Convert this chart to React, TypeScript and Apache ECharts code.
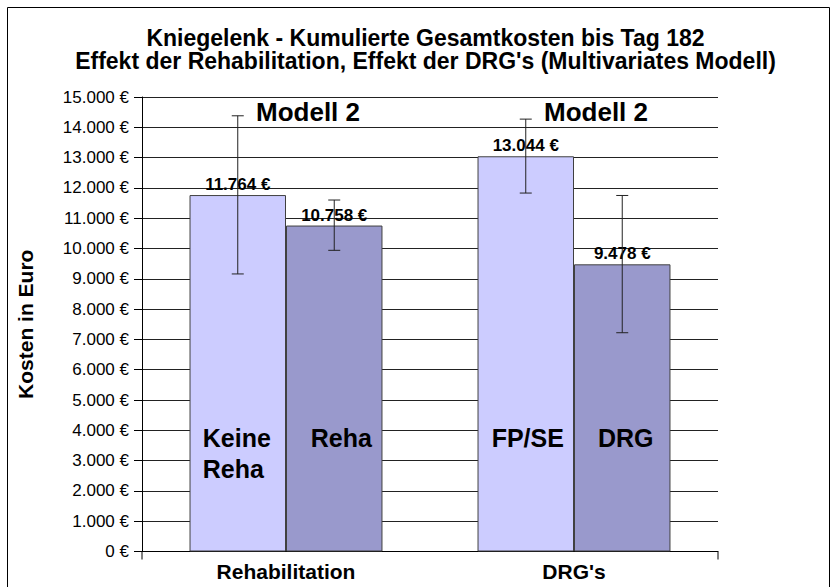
import React, { useEffect, useRef } from 'react';
import * as echarts from 'echarts';

const categories = ['Rehabilitation', "DRG's"];
const barNamesLight = ['Keine\nReha', 'FP/SE'];
const barNamesDark = ['Reha', 'DRG'];
const valuesLight = [11764, 13044];
const valuesDark = [10758, 9478];
const errLowLight = [9160, 11830];
const errHighLight = [14380, 14270];
const errLowDark = [9940, 7220];
const errHighDark = [11600, 11750];
const yMin = 0;
const yMax = 15000;
const yStep = 1000;
const titleLines = [
  'Kniegelenk - Kumulierte Gesamtkosten bis Tag 182',
  "Effekt der Rehabilitation, Effekt der DRG's (Multivariates Modell)",
];
const modelNotes = ['Modell 2', 'Modell 2'];
const yAxisTitle = 'Kosten in Euro';

const FONT = 'Arial, "Liberation Sans", sans-serif';
const CAT_GAP = 0.33;

function fmtEuro(v: number): string {
  const s = Math.round(v).toString().replace(/\B(?=(\d{3})+(?!\d))/g, '.');
  return s + ' €';
}

export default function App() {
  const ref = useRef<HTMLDivElement>(null);
  useEffect(() => {
    if (!ref.current) return;
    const chart = echarts.init(ref.current, undefined, { renderer: 'svg' });
    const errData = [
      ...categories.map((_, i) => [i, errLowLight[i], errHighLight[i], -1]),
      ...categories.map((_, i) => [i, errLowDark[i], errHighDark[i], 1]),
    ];
    chart.setOption({
      animation: false,
      backgroundColor: '#ffffff',
      textStyle: { fontFamily: FONT },
      grid: { left: 142, right: 117, top: 97, bottom: 35.5, containLabel: false },
      xAxis: {
        type: 'category',
        data: categories,
        axisLine: { lineStyle: { color: '#000', width: 1 } },
        axisTick: { show: false },
        axisLabel: { color: '#000', fontSize: 21, fontWeight: 'bold', fontFamily: FONT, margin: 9 },
      },
      yAxis: {
        type: 'value',
        min: yMin,
        max: yMax,
        interval: yStep,
        name: yAxisTitle,
        nameLocation: 'middle',
        nameGap: 106,
        nameTextStyle: { color: '#000', fontSize: 21, fontWeight: 'bold', fontFamily: FONT },
        axisLine: { show: true, lineStyle: { color: '#000', width: 1 } },
        axisTick: { show: true, length: 8, lineStyle: { color: '#000' } },
        axisLabel: { color: '#000', fontSize: 17, fontFamily: FONT, margin: 13, formatter: (v: number) => fmtEuro(v) },
        splitLine: { show: true, lineStyle: { color: '#222', width: 1 } },
      },
      series: [
        {
          type: 'bar',
          data: valuesLight,
          barGap: '0%',
          barCategoryGap: CAT_GAP * 100 + '%',
          itemStyle: { color: '#CCCCFF', borderColor: '#404040', borderWidth: 1 },
          label: { show: true, position: 'top', distance: 2, color: '#000', fontSize: 17, fontWeight: 'bold', fontFamily: FONT, formatter: (p: any) => fmtEuro(p.value) },
        },
        {
          type: 'bar',
          data: valuesDark,
          barGap: '0%',
          barCategoryGap: CAT_GAP * 100 + '%',
          itemStyle: { color: '#9999CC', borderColor: '#404040', borderWidth: 1 },
          label: { show: true, position: 'top', distance: 2, color: '#000', fontSize: 17, fontWeight: 'bold', fontFamily: FONT, formatter: (p: any) => fmtEuro(p.value) },
        },
        {
          type: 'custom',
          data: errData,
          encode: { x: 0, y: [1, 2] },
          z: 5,
          renderItem: (params: any, api: any) => {
            const cat = api.value(0);
            const lo = api.coord([cat, api.value(1)]);
            const hi = api.coord([cat, api.value(2)]);
            const band = api.size([1, 0])[0];
            const barW = (band * (1 - CAT_GAP)) / 2;
            const x = lo[0] + (api.value(3) * barW) / 2;
            const half = 6;
            const st = { stroke: '#222', lineWidth: 1 };
            return {
              type: 'group',
              children: [
                { type: 'line', shape: { x1: x, y1: hi[1], x2: x, y2: lo[1] }, style: st },
                { type: 'line', shape: { x1: x - half, y1: hi[1], x2: x + half, y2: hi[1] }, style: st },
                { type: 'line', shape: { x1: x - half, y1: lo[1], x2: x + half, y2: lo[1] }, style: st },
              ],
            };
          },
        },
      ],
    });

    const c0 = chart.convertToPixel({ xAxisIndex: 0 }, 0) as number;
    const c1 = chart.convertToPixel({ xAxisIndex: 0 }, 1) as number;
    const band = c1 - c0;
    const barW = (band * (1 - CAT_GAP)) / 2;
    const y0 = chart.convertToPixel({ yAxisIndex: 0 }, 0) as number;
    const gridLeft = c0 - band / 2;
    const gridRight = c0 + band * (categories.length - 0.5);
    const yName = chart.convertToPixel({ yAxisIndex: 0 }, 4245) as number;
    const yNote = chart.convertToPixel({ yAxisIndex: 0 }, 14490) as number;
    const lightDx = [-35, 2];
    const darkDx = [7, 3.5];
    const graphics: any[] = [
      { type: 'rect', shape: { x: 7.5, y: 7.5, width: 822, height: 600 }, style: { fill: 'none', stroke: '#000', lineWidth: 1 }, silent: true },
      { type: 'text', x: 425.5, y: 37.5, style: { text: titleLines[0], font: 'bold 23px ' + FONT, fill: '#000', textAlign: 'center', textVerticalAlign: 'middle', align: 'center', verticalAlign: 'middle' } },
      { type: 'text', x: 425.5, y: 61, style: { text: titleLines[1], font: 'bold 23px ' + FONT, fill: '#000', textAlign: 'center', textVerticalAlign: 'middle', align: 'center', verticalAlign: 'middle' } },
      { type: 'line', shape: { x1: gridLeft, y1: y0, x2: gridLeft, y2: y0 + 8 }, style: { stroke: '#000', lineWidth: 1 } },
      { type: 'line', shape: { x1: gridRight, y1: y0, x2: gridRight, y2: y0 + 8 }, style: { stroke: '#000', lineWidth: 1 } },
    ];
    categories.forEach((_, i) => {
      const cx = c0 + band * i;
      const lx = cx - barW / 2;
      const dx = cx + barW / 2;
      const leftAligned = barNamesLight[i].includes('\n');
      graphics.push({
        type: 'text', x: lx + lightDx[i], y: yName, z: 10,
        style: { text: barNamesLight[i], font: 'bold 25px ' + FONT, fill: '#000', lineHeight: 31,
          textAlign: leftAligned ? 'left' : 'center', align: leftAligned ? 'left' : 'center', textVerticalAlign: 'top', verticalAlign: 'top' },
      });
      graphics.push({
        type: 'text', x: dx + darkDx[i], y: yName, z: 10,
        style: { text: barNamesDark[i], font: 'bold 25px ' + FONT, fill: '#000', lineHeight: 31,
          textAlign: 'center', align: 'center', textVerticalAlign: 'top', verticalAlign: 'top' },
      });
      graphics.push({
        type: 'text', x: cx + 22, y: yNote, z: 10,
        style: { text: modelNotes[i], font: 'bold 26px ' + FONT, fill: '#000',
          textAlign: 'center', align: 'center', textVerticalAlign: 'middle', verticalAlign: 'middle' },
      });
    });
    chart.setOption({ graphic: graphics });
    return () => chart.dispose();
  }, []);
  return <div ref={ref} style={{ position: 'absolute', left: 0, top: 0, width: 835, height: 587 }} />;
}
